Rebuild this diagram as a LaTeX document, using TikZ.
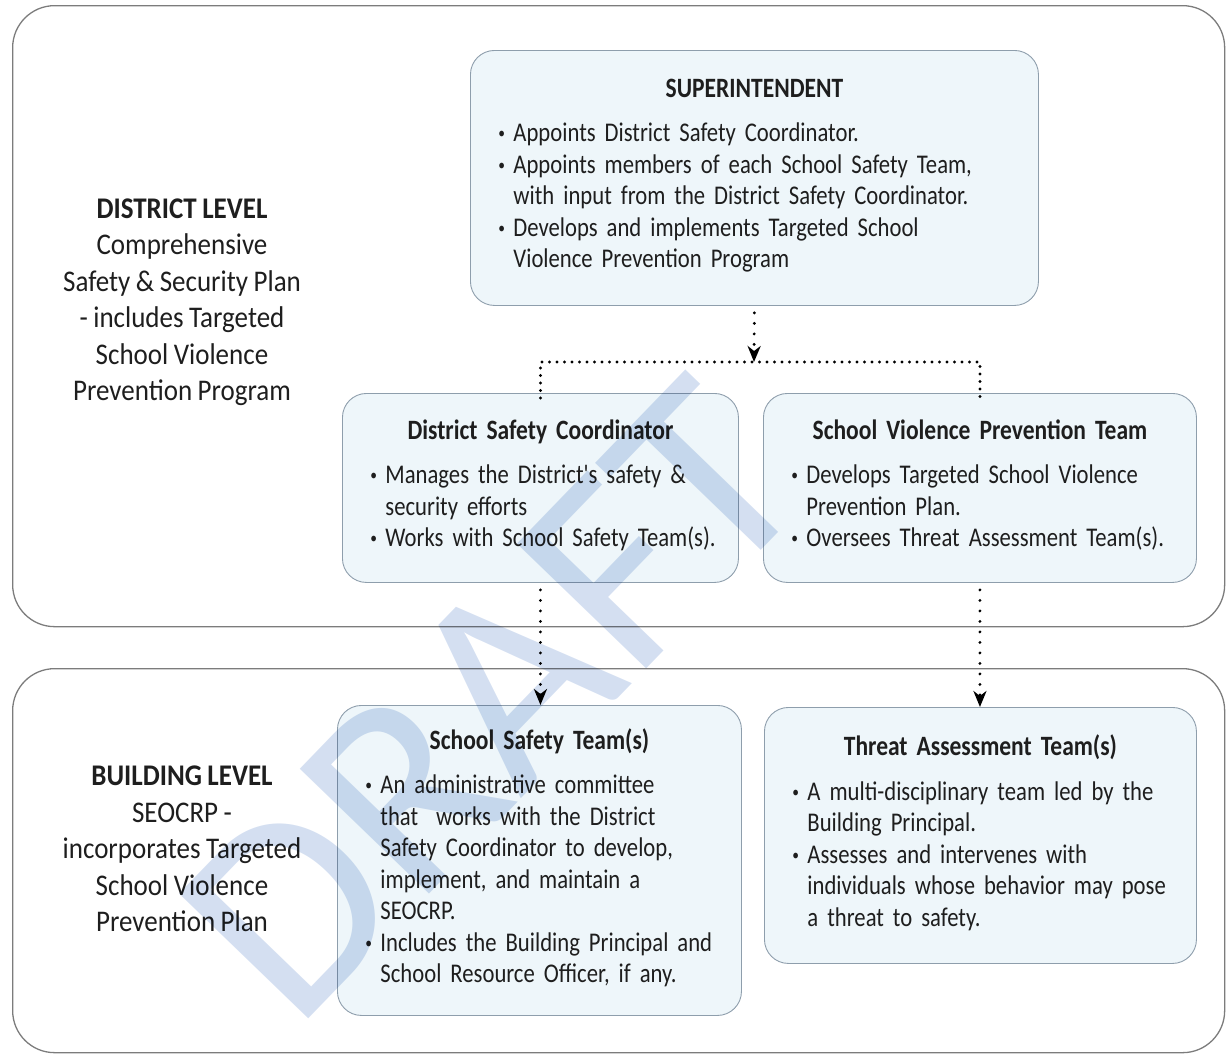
\documentclass[tikz,border=0pt]{standalone}
\usepackage{fontspec}
\setmainfont{Carlito}
\newfontfamily\narrowfont[FakeStretch=0.84, WordSpace=0.85]{Carlito}
\newfontfamily\levelfont[FakeStretch=0.9, WordSpace=0.9]{Carlito}
\usetikzlibrary{arrows.meta, positioning, calc}
\definecolor{cardfill}{HTML}{EEF6FA}
\definecolor{cardline}{HTML}{8E9EAC}
\definecolor{frameline}{HTML}{7C7C7C}
\definecolor{ink}{HTML}{1E1E1E}
\definecolor{wmblue}{HTML}{D4DFF1}
\tikzset{
  frame/.style = {draw=frameline, line width=1.3pt, rounded corners=42pt, anchor=north west,
                  inner sep=0pt},
  card/.style  = {draw=cardline, fill=cardfill, line width=0.9pt, rounded corners=24pt,
                  anchor=north west, inner xsep=28pt, inner ysep=0pt, align=left,
                  text=ink, font=\narrowfont\fontsize{27}{31.5}\selectfont},
  lvl/.style   = {align=center, text=ink, font=\levelfont\fontsize{30}{36.5}\selectfont},
  vlink/.style = {draw=black, line width=3.2pt, line cap=round, dash pattern=on 0pt off 10.5pt,
                  -{Stealth[length=16pt, width=13pt, inset=5pt]}, shorten <=7pt},
  hlink/.style = {draw=black, line width=3.2pt, line cap=round, dash pattern=on 0pt off 7.5pt},
}
\newcommand{\cardhead}[1]{{\centering\bfseries\fontsize{28}{32}\selectfont #1\par}\vspace{13pt}}
\newcommand{\dotb}{{\fontsize{16}{16}\selectfont\raisebox{3pt}{\textbullet}}}

\begin{document}
\begin{tikzpicture}[x=1pt, y=-1pt]
\useasboundingbox (0,0) rectangle (1230,1055);
% the two levels
\node[frame, minimum width=1212, minimum height=621] (dframe) at (12,5) {};
\node[frame, minimum width=1212, minimum height=384] (bframe) at (12,668) {};
\node[lvl] (dtext) at (182,302) {{\bfseries DISTRICT LEVEL}\\Comprehensive\\Safety \& Security Plan\\- includes Targeted\\School Violence\\Prevention Program};
\node[lvl] (btext) at (182,849) {{\bfseries BUILDING LEVEL}\\SEOCRP -\\incorporates Targeted\\School Violence\\Prevention Plan};

% district cards
\node[card, minimum width=568, minimum height=255, text width=512] (sup) at (470,50) {%
  \cardhead{SUPERINTENDENT}
  \begin{tabular}[t]{@{}p{15pt}@{}l@{}}
  \dotb & Appoints District Safety Coordinator.\\
  \dotb & Appoints members of each School Safety Team,\\
        & with input from the District Safety Coordinator.\\
  \dotb & Develops and implements Targeted School\\
        & Violence Prevention Program
  \end{tabular}};
\node[card, minimum width=396, minimum height=189, text width=340] (dsc) at (342,393) {%
  \cardhead{District Safety Coordinator}
  \begin{tabular}[t]{@{}p{15pt}@{}l@{}}
  \dotb & Manages the District's safety \&\\
        & security efforts\\
  \dotb & Works with School Safety Team(s).
  \end{tabular}};
\node[card, minimum width=433, minimum height=189, text width=377] (svpt) at (763,393) {%
  \cardhead{School Violence Prevention Team}
  \begin{tabular}[t]{@{}p{15pt}@{}l@{}}
  \dotb & Develops Targeted School Violence\\
        & Prevention Plan.\\
  \dotb & Oversees Threat Assessment Team(s).
  \end{tabular}};

% building cards
\node[card, minimum width=404, minimum height=310, text width=348] (sst) at (337,705) {%
  \cardhead{School Safety Team(s)}
  \begin{tabular}[t]{@{}p{15pt}@{}l@{}}
  \dotb & An administrative committee\\
        & that\ \ works with the District\\
        & Safety Coordinator to develop,\\
        & implement, and maintain a\\
        & SEOCRP.\\
  \dotb & Includes the Building Principal and\\
        & School Resource Officer, if any.
  \end{tabular}};
\node[card, minimum width=432, minimum height=256, text width=376] (tat) at (764,707) {%
  \cardhead{Threat Assessment Team(s)}
  \begin{tabular}[t]{@{}p{15pt}@{}l@{}}
  \dotb & A multi-disciplinary team led by the\\
        & Building Principal.\\
  \dotb & Assesses and intervenes with\\
        & individuals whose behavior may pose\\
        & a threat to safety.
  \end{tabular}};

% links
\coordinate (split) at (754,362);
\draw[vlink] (sup.south) -- (split);
\draw[hlink] ([yshift=-5pt]dsc.north) |- (split) -| ([yshift=-5pt]svpt.north);
\draw[vlink] (dsc.south) -- (dsc.south |- sst.north);
\draw[vlink] (svpt.south) -- (svpt.south |- tat.north);

% watermark
\node[rotate=46, blend mode=multiply, text=wmblue, font=\fontsize{280}{280}\selectfont] (wmark) at (492,700) {DRAFT};
\end{tikzpicture}
\end{document}
